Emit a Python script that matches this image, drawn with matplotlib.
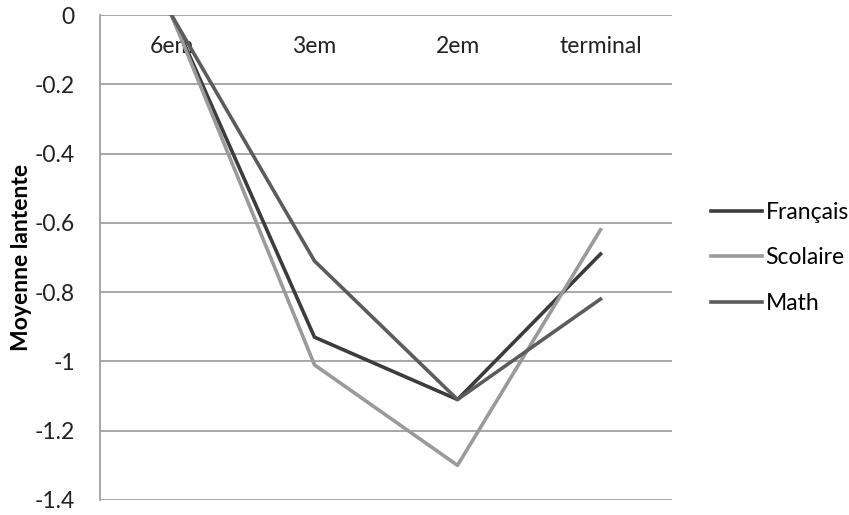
import matplotlib.pyplot as plt
import numpy as np

classes = ["6em", "3em", "2em", "terminal"]
francais = [0.0, -0.93, -1.11, -0.69]
scolaire = [0.0, -1.01, -1.30, -0.62]
math = [0.0, -0.71, -1.11, -0.82]

plt.rcParams['font.family'] = ['Lato', 'DejaVu Sans']

fig = plt.figure(figsize=(8.49, 5.15), dpi=100)
ax = fig.add_axes([100/849, 15/515, 572/849, 485/515])

x = np.arange(len(classes))
ax.plot(x, francais, color='#3c3c3c', lw=2.6, label='Français')
ax.plot(x, scolaire, color='#9a9a9a', lw=2.6, label='Scolaire')
ax.plot(x, math, color='#5c5c5c', lw=2.6, label='Math')

ax.set_xlim(-0.5, len(classes) - 0.5)
ax.set_ylim(-1.4, 0)
ax.set_yticks(np.arange(-1.4, 0.01, 0.2))
ax.set_yticklabels(["-1.4", "-1.2", "-1", "-0.8", "-0.6", "-0.4", "-0.2", "0"])
ax.yaxis.grid(True, color='#a0a0a0', lw=1.3)
ax.set_axisbelow(True)

ax.set_xticks(x)
ax.set_xticklabels(classes)
ax.spines['bottom'].set_position(('data', 0))
ax.spines['bottom'].set_visible(False)
ax.spines['top'].set_visible(False)
ax.spines['right'].set_visible(False)
ax.spines['left'].set_color('#a0a0a0')
ax.spines['left'].set_linewidth(1.3)
ax.tick_params(axis='x', length=0, pad=15, labelsize=16.5, colors='#222222')
ax.tick_params(axis='y', length=0, pad=18, labelsize=16.5, colors='#222222')

ax.set_ylabel("Moyenne lantente", fontsize=16.5, fontweight='bold', labelpad=2)

fig.legend(loc='center left', bbox_to_anchor=(690/849, 257/515), frameon=False,
           fontsize=16.5, handlelength=2.25, handletextpad=0.15, labelspacing=1.05)

fig.savefig("out.png", dpi=100)
